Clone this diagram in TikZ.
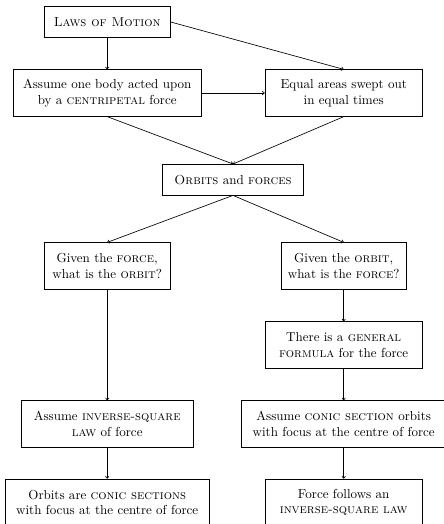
\documentclass[tikz,border=0pt]{standalone}
\usetikzlibrary{arrows.meta}
\begin{document}
\begin{tikzpicture}[x=0.768pt,y=-0.768pt,
  box/.style={draw, align=center, inner sep=0pt, line width=0.5pt},
  arr/.style={-{To[length=2pt,width=3pt]}, line width=0.5pt}]
\useasboundingbox (0,0) rectangle (443,524);
\node[box, minimum width=96.5pt, minimum height=23.3pt] (laws) at (107.2,21.9) {\textsc{Laws of Motion}};
\node[box, minimum width=144.4pt, minimum height=35.8pt] (assume) at (107.2,93) {Assume one body acted upon\\by a \textsc{centripetal} force};
\node[box, minimum width=120.8pt, minimum height=35.8pt] (equal) at (343.7,93) {Equal areas swept out\\in equal times};
\node[box, minimum width=108.6pt, minimum height=23.6pt] (orbits) at (233,179.7) {\textsc{Orbits} and \textsc{forces}};
\node[box, minimum width=96.5pt, minimum height=35.8pt] (givenf) at (107.2,266) {Given the \textsc{force},\\what is the \textsc{orbit}?};
\node[box, minimum width=96.2pt, minimum height=35.8pt] (giveno) at (343.7,266) {Given the \textsc{orbit},\\what is the \textsc{force}?};
\node[box, minimum width=120.8pt, minimum height=35.8pt] (general) at (343.7,345) {There is a \textsc{general}\\\textsc{formula} for the force};
\node[box, minimum width=132.1pt, minimum height=35.6pt] (assinv) at (107.2,423.8) {Assume \textsc{inverse-square}\\\textsc{law} of force};
\node[box, minimum width=157.3pt, minimum height=35.6pt] (asscon) at (343.7,423.8) {Assume \textsc{conic section} orbits\\with focus at the centre of force};
\node[box, minimum width=157.2pt, minimum height=35.8pt] (orbcon) at (107.2,502.3) {Orbits are \textsc{conic sections}\\with focus at the centre of force};
\node[box, minimum width=120.8pt, minimum height=35.8pt] (force) at (343.7,502.3) {Force follows an\\\textsc{inverse-square law}};
\draw[arr] (laws.south) -- (assume.north);
\draw[arr] (laws.east) -- (equal.north);
\draw[arr] (assume.east) -- (equal.west);
\draw[arr] (assume.south) -- (orbits.north);
\draw[arr] (equal.south) -- (orbits.north);
\draw[arr] (orbits.south) -- (givenf.north);
\draw[arr] (orbits.south) -- (giveno.north);
\draw[arr] (givenf.south) -- (assinv.north);
\draw[arr] (assinv.south) -- (orbcon.north);
\draw[arr] (giveno.south) -- (general.north);
\draw[arr] (general.south) -- (asscon.north);
\draw[arr] (asscon.south) -- (force.north);
\end{tikzpicture}
\end{document}
